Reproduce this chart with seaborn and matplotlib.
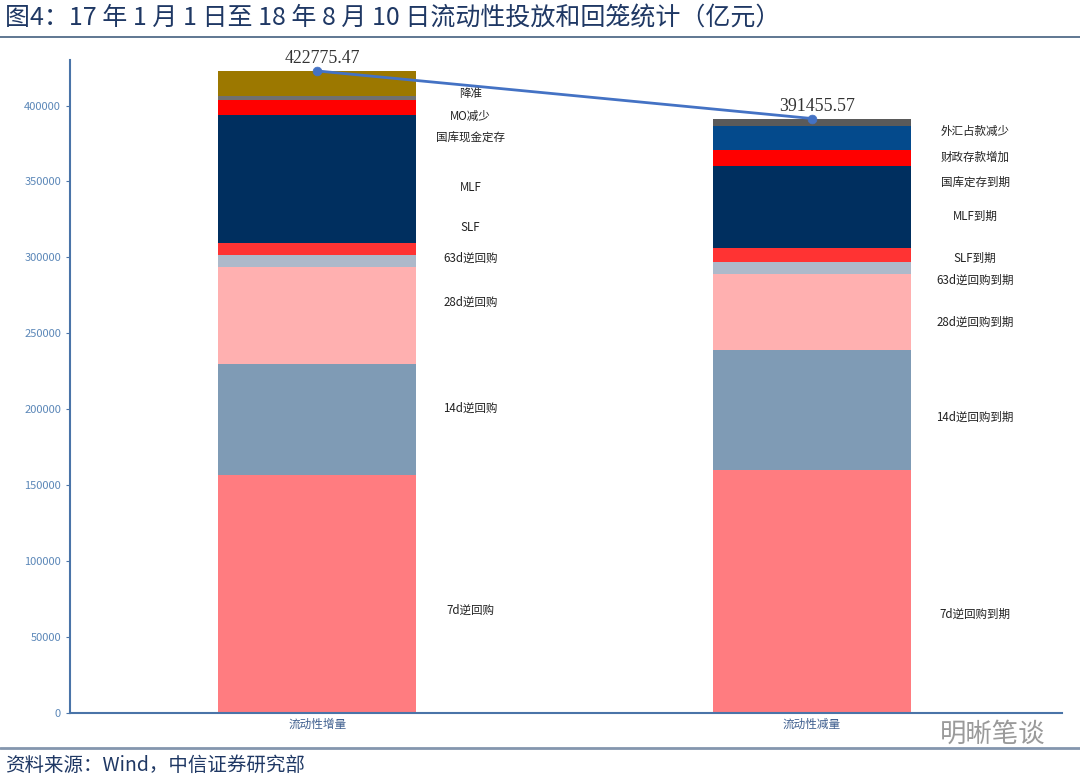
import matplotlib
matplotlib.use('Agg')
import matplotlib.pyplot as plt
import numpy as np
import pandas as pd
import seaborn as sns

# data (亿元), stacked from bottom to top
categories = ['流动性增量', '流动性减量']
left_labels = ['7d逆回购', '14d逆回购', '28d逆回购', '63d逆回购', 'SLF', 'MLF',
               '国库现金定存', 'MO减少', '降准']
left_values = [156500, 73100, 64000, 8000, 7900, 84500, 9900, 2700, 16175.47]
right_labels = ['7d逆回购到期', '14d逆回购到期', '28d逆回购到期', '63d逆回购到期', 'SLF到期',
                'MLF到期', '国库定存到期', '财政存款增加', '外汇占款减少']
right_values = [159900, 78900, 50000, 7900, 9200, 54600, 9900, 16400, 4655.57]
totals = [422775.47, 391455.57]

# layout: where the segment labels sit (data units)
left_label_y = [67800, 200700, 270400, 299300, 319700, 346000, 378900, 392800, 407900]
right_label_y = [65100, 194700, 257200, 284900, 299300, 327000, 349300, 365800, 382900]

left_colors = ['#FF7C80', '#7F9BB5', '#FFB0B0', '#ADB9CA', '#FF3333', '#002F5F',
               '#FF0000', '#707070', '#9C7800']
right_colors = ['#FF7C80', '#7F9BB5', '#FFB0B0', '#ADB9CA', '#FF3333', '#002F5F',
                '#FF0000', '#044A8C', '#5A5A5A']

sns.set_style('white')
plt.rcParams['font.family'] = ['Noto Sans CJK SC', 'DejaVu Sans']

fig = plt.figure(figsize=(10.8, 7.82), dpi=100)
ax = fig.add_axes([0.0648, 0.0882, 0.9182, 0.8351])

cum_left = np.cumsum(left_values)
cum_right = np.cumsum(right_values)
for k in range(len(left_values) - 1, -1, -1):
    df = pd.DataFrame({'cat': categories, 'val': [cum_left[k], cum_right[k]]})
    sns.barplot(data=df, x='cat', y='val', hue='cat', palette=[left_colors[k], right_colors[k]],
                width=0.4, saturation=1, legend=False, ax=ax, linewidth=0)

sns.lineplot(x=np.arange(2), y=totals, color='#4472C4', lw=2, ax=ax)
sns.scatterplot(x=np.arange(2), y=totals, color='#4472C4', s=40, edgecolor='#4472C4', ax=ax, zorder=5)
for i, t in enumerate(totals):
    ax.text(i + 0.01, t + 2500, f'{t:.2f}', ha='center', va='bottom',
            family='Liberation Serif', fontsize=12.8, color='#333333')

for lab, y in zip(left_labels, left_label_y):
    ax.text(0.31, y, lab, ha='center', va='center', fontsize=8.3, color='#222222')
for lab, y in zip(right_labels, right_label_y):
    ax.text(1.33, y, lab, ha='center', va='center', fontsize=8.3, color='#222222')

ax.set_xlim(-0.5, 1.505)
ax.set_ylim(0, 430000)
ax.set_yticks(np.arange(0, 400001, 50000))
ax.set_xlabel('')
ax.set_ylabel('')
ax.tick_params(axis='y', labelsize=8, labelcolor='#5B87B8', length=3, color='#4A74A8', direction='out', left=True)
ax.tick_params(axis='x', labelsize=8.4, labelcolor='#3F5F8F', length=0)
for side in ['top', 'right']:
    ax.spines[side].set_visible(False)
for side in ['left', 'bottom']:
    ax.spines[side].set_color('#4A74A8')
    ax.spines[side].set_linewidth(1.5)

fig.text(0.005, 0.977, '图4：17 年 1 月 1 日至 18 年 8 月 10 日流动性投放和回笼统计（亿元）',
         ha='left', va='center', fontsize=18, color='#1F3864')
fig.add_artist(plt.Line2D([0, 1], [0.953, 0.953], color='#44607F', lw=1.2))
fig.add_artist(plt.Line2D([0, 1], [0.044, 0.044], color='#8496AE', lw=2))
fig.text(0.005, 0.021, '资料来源：Wind，中信证券研究部', ha='left', va='center',
         fontsize=14, color='#1F3864')
fig.text(0.87, 0.061, '明晰笔谈', ha='left', va='center', fontsize=19, color='#9A9A9A')

fig.savefig('out.png', dpi=100)
